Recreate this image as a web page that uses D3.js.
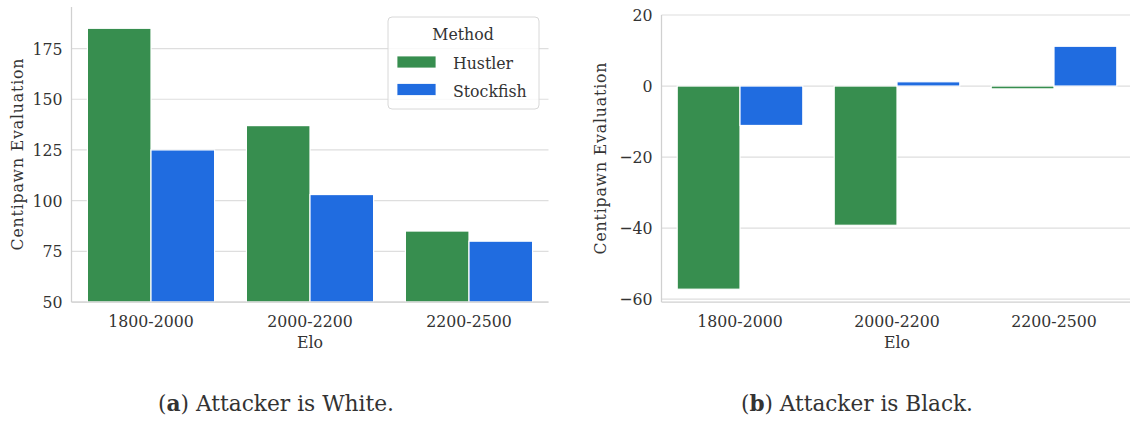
<!DOCTYPE html>
<html><head><meta charset="utf-8">
<script src="https://cdn.jsdelivr.net/npm/d3@7"></script>
<style>
html,body{margin:0;padding:0;background:#fff;}
svg{display:block;}
</style></head>
<body>
<svg id="chart" width="1130" height="423"></svg>
<script>
const categories = ["1800-2000", "2000-2200", "2200-2500"];
const methods = ["Hustler", "Stockfish"];
const whiteHustler = [185, 137, 85];
const whiteStockfish = [125, 103, 80];
const blackHustler = [-57.2, -39.2, -0.8];
const blackStockfish = [-11.1, 1.2, 11.2];
const whiteTicks = [50, 75, 100, 125, 150, 175];
const blackTicks = [-60, -40, -20, 0, 20];
const colors = ["#378e4f", "#206ce0"];

const SERIF = "'DejaVu Serif Condensed', 'DejaVu Serif', 'Liberation Serif', serif";
const svg = d3.select("#chart");
const FS = 17.5;
function styleText(sel, size, ls) {
  return sel.style("font-family", SERIF).style("font-size", size + "px")
    .style("font-stretch", "condensed")
    .style("fill", "#333333").style("letter-spacing", (ls || 0) + "px");
}

function panel(cfg) {
  const g = svg.append("g");
  const x = d3.scaleBand().domain(categories).range(cfg.xr).paddingInner(0.2).paddingOuter(0.1);
  const xh = d3.scaleBand().domain(methods).range([0, x.bandwidth()]);
  const y = d3.scaleLinear().domain(cfg.yd).range(cfg.yr);
  const right = Math.min(cfg.xr[1], 1130);

  g.append("g").selectAll("line").data(cfg.ticks).join("line")
    .attr("x1", cfg.xr[0]).attr("x2", right)
    .attr("y1", d => y(d)).attr("y2", d => y(d))
    .attr("stroke", "#dedede").attr("stroke-width", 1.2);

  const rows = [];
  categories.forEach((c, i) => {
    methods.forEach((m, j) => rows.push({c, m, j, v: cfg.series[j][i]}));
  });
  g.append("g").selectAll("rect").data(rows).join("rect")
    .attr("x", d => x(d.c) + xh(d.m))
    .attr("width", xh.bandwidth())
    .attr("y", d => Math.min(y(d.v), y(cfg.base)))
    .attr("height", d => Math.abs(y(d.v) - y(cfg.base)))
    .attr("fill", d => colors[d.j])
    .attr("stroke", "#ffffff").attr("stroke-width", 1.2);

  g.append("line").attr("x1", cfg.xr[0]).attr("x2", cfg.xr[0])
    .attr("y1", cfg.yr[1]).attr("y2", cfg.yr[0]).attr("stroke", "#d0d0d0").attr("stroke-width", 1.25);
  g.append("line").attr("x1", cfg.xr[0]).attr("x2", right)
    .attr("y1", cfg.yr[0]).attr("y2", cfg.yr[0]).attr("stroke", "#d0d0d0").attr("stroke-width", 1.25);

  const ya = d3.axisLeft(y).tickValues(cfg.ticks).tickSize(0).tickPadding(9)
    .tickFormat(d => d < 0 ? "\u2212" + Math.abs(d) : String(d));
  const yg = g.append("g").attr("transform", `translate(${cfg.xr[0]},0)`).call(ya);
  yg.attr("font-family", null).attr("font-size", null);
  yg.select(".domain").remove();
  styleText(yg.selectAll("text"), FS);

  const xa = d3.axisBottom(x).tickSize(0).tickPadding(8);
  const xg = g.append("g").attr("transform", `translate(0,${cfg.yr[0]})`).call(xa);
  xg.attr("font-family", null).attr("font-size", null);
  xg.select(".domain").remove();
  styleText(xg.selectAll("text"), FS).attr("dy", null).attr("y", 25);

  styleText(g.append("text").attr("x", (cfg.xr[0] + cfg.xr[1]) / 2).attr("y", 348)
    .attr("text-anchor", "middle"), FS).text("Elo");
  const ymid = (cfg.yr[0] + cfg.yr[1]) / 2;
  styleText(g.append("text").attr("transform", `translate(${cfg.ylx},${ymid}) rotate(-90)`)
    .attr("text-anchor", "middle")
    .attr("textLength", 192).attr("lengthAdjust", "spacing"), FS)
    .text("Centipawn Evaluation");

  const cap = styleText(svg.append("text").attr("x", cfg.capX).attr("y", 411)
    .attr("text-anchor", "middle")
    .attr("textLength", cfg.capW).attr("lengthAdjust", "spacingAndGlyphs"), 22);
  cap.append("tspan").text("(");
  cap.append("tspan").style("font-weight", "bold").text(cfg.capLetter);
  cap.append("tspan").text(") " + cfg.capText);
}

panel({
  xr: [71.5, 548.5], yr: [302, 7], yd: [50, 195.5], base: 50,
  ticks: whiteTicks, series: [whiteHustler, whiteStockfish], ylx: 23,
  capX: 276, capW: 236, capLetter: "a", capText: "Attacker is White."
});
panel({
  xr: [661.5, 1132.5], yr: [302, 15], yd: [-60.8, 20], base: 0,
  ticks: blackTicks, series: [blackHustler, blackStockfish], ylx: 606,
  capX: 857, capW: 232, capLetter: "b", capText: "Attacker is Black."
});

const lg = svg.append("g");
lg.append("rect").attr("x", 388).attr("y", 17).attr("width", 151).attr("height", 92)
  .attr("rx", 4).attr("fill", "#ffffff").attr("fill-opacity", 0.8)
  .attr("stroke", "#d8d8d8").attr("stroke-width", 1);
styleText(lg.append("text").attr("x", 463).attr("y", 40).attr("text-anchor", "middle"), FS).text("Method");
methods.forEach((m, i) => {
  const yy = 56 + i * 27.5;
  lg.append("rect").attr("x", 397).attr("y", yy).attr("width", 39).attr("height", 12)
    .attr("fill", colors[i]).attr("stroke", "#ffffff").attr("stroke-width", 0.8);
  styleText(lg.append("text").attr("x", 453).attr("y", yy + 13), FS).text(m);
});
</script>
</body></html>
